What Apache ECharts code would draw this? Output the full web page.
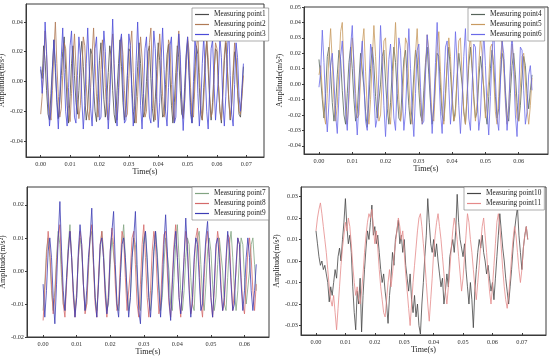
<!DOCTYPE html>
<html><head><meta charset="utf-8">
<script src="https://cdn.jsdelivr.net/npm/echarts@6/dist/echarts.min.js"></script>
<style>html,body{margin:0;padding:0;background:#fff}#c{width:550px;height:357px}</style>
</head><body><div id="c"></div>
<script>
// sampling step of the recorded signals (s)
const dt = 0.0005;

// ---- Panel A: measuring points 1-3 ----
const point1 = [0.008,0.002,0.024,0.014,-0.006,-0.022,-0.026,
-0.008,0.010,0.028,0.006,-0.012,-0.025,-0.014,
0.004,0.020,0.030,0.008,-0.016,-0.028,-0.010,
0.012,0.024,0.004,-0.014,-0.022,-0.006,0.016,
0.027,0.010,-0.010,-0.026,-0.018,0.002,0.022,
0.018,-0.004,-0.020,-0.027,-0.008,0.014,0.026,
0.008,-0.012,-0.024,-0.012,0.006,0.024,0.016,
-0.006,-0.022,-0.028,-0.006,0.012,0.028,0.010,
-0.014,-0.026,-0.016,0.004,0.022,0.020,-0.002,
-0.020,-0.028,-0.010,0.010,0.026,0.012,-0.010,
-0.024,-0.020,0.000,0.020,0.024,0.002,-0.018,
-0.027,-0.012,0.008,0.026,0.014,-0.008,-0.024,
-0.022,-0.002,0.018,0.025,0.004,-0.016,-0.028,
-0.014,0.006,0.024,0.016,-0.006,-0.022,-0.024,
-0.004,0.016,0.027,0.006,-0.014,-0.028,-0.012,
0.010,0.024,0.018,-0.004,-0.022,-0.026,-0.004,
0.014,0.028,0.008,-0.012,-0.026,-0.014,0.006,
0.022,0.020,-0.002,-0.020,-0.028,-0.006,0.014,
0.026,0.010,-0.012,-0.026,-0.016,0.004,0.020,
0.014,-0.006,-0.022,-0.024,-0.008,0.010];
const point2 = [-0.022,-0.010,0.012,0.034,0.018,-0.004,-0.020,
-0.026,-0.006,0.020,0.040,0.012,-0.010,-0.024,
-0.018,0.004,0.026,0.022,0.000,-0.018,-0.027,
-0.008,0.016,0.032,0.010,-0.012,-0.025,-0.016,
0.006,0.030,0.024,-0.002,-0.020,-0.026,-0.004,
0.018,0.036,0.012,-0.010,-0.024,-0.014,0.008,
0.028,0.020,-0.004,-0.022,-0.026,-0.002,0.020,
0.032,0.008,-0.014,-0.026,-0.010,0.012,0.030,
0.018,-0.006,-0.024,-0.022,0.002,0.024,0.034,
0.006,-0.016,-0.028,-0.010,0.014,0.030,0.016,
-0.008,-0.024,-0.020,0.004,0.026,0.036,0.004,
-0.018,-0.026,-0.008,0.016,0.032,0.014,-0.010,
-0.024,-0.018,0.006,0.028,0.024,-0.002,-0.020,
-0.027,-0.006,0.018,0.034,0.010,-0.012,-0.025,
-0.014,0.008,0.030,0.020,-0.004,-0.022,-0.024,
-0.002,0.022,0.032,0.006,-0.016,-0.026,-0.012,
0.012,0.028,0.016,-0.008,-0.024,-0.020,0.004,
0.026,0.022,-0.002,-0.020,-0.026,-0.006,0.018,
0.030,0.010,-0.012,-0.025,-0.014,0.008,0.026,
0.016,-0.006,-0.020,-0.022,-0.010,0.004];
const point3 = [0.010,-0.008,0.006,0.040,0.020,-0.010,-0.030,
-0.018,0.008,0.028,0.012,-0.014,-0.032,-0.010,
0.016,0.036,0.006,-0.020,-0.030,-0.004,0.024,
0.034,0.002,-0.024,-0.028,0.004,0.030,0.018,
-0.012,-0.032,-0.016,0.012,0.036,0.010,-0.018,
-0.030,-0.006,0.022,0.030,0.000,-0.026,-0.024,
0.006,0.034,0.020,-0.010,-0.032,-0.014,0.014,
0.042,0.012,-0.018,-0.030,-0.004,0.026,0.032,
-0.002,-0.028,-0.026,0.004,0.032,0.024,-0.008,
-0.030,-0.016,0.014,0.040,0.014,-0.016,-0.032,
-0.008,0.022,0.030,0.002,-0.024,-0.028,0.002,
0.034,0.022,-0.010,-0.031,-0.014,0.016,0.036,
0.008,-0.020,-0.030,-0.004,0.024,0.030,-0.002,
-0.028,-0.024,0.006,0.032,0.018,-0.012,-0.033,
-0.012,0.018,0.030,0.004,-0.022,-0.028,0.000,
0.028,0.020,-0.008,-0.030,-0.016,0.012,0.030,
0.006,-0.020,-0.032,-0.006,0.022,0.028,-0.002,
-0.026,-0.026,0.004,0.030,0.016,-0.014,-0.030,
-0.010,0.018,0.036,0.004,-0.022,-0.030,-0.002,
0.026,0.016,-0.010,-0.020,-0.004,0.012];

// ---- Panel B: measuring points 4-6 ----
const point4 = [0.016,0.004,-0.010,-0.022,-0.006,0.018,0.024,
0.008,-0.012,-0.024,-0.014,0.006,0.022,0.016,
-0.004,-0.020,-0.026,-0.006,0.014,0.024,0.010,
-0.010,-0.024,-0.018,0.002,0.020,0.020,-0.002,
-0.018,-0.028,-0.010,0.010,0.024,0.012,-0.008,
-0.022,-0.022,0.000,0.018,0.022,0.002,-0.016,
-0.026,-0.012,0.008,0.024,0.014,-0.006,-0.022,
-0.024,-0.002,0.016,0.022,0.004,-0.014,-0.026,
-0.014,0.006,0.022,0.016,-0.004,-0.020,-0.024,
-0.004,0.014,0.024,0.006,-0.012,-0.026,-0.016,
0.004,0.020,0.018,-0.002,-0.020,-0.024,-0.006,
0.012,0.024,0.008,-0.010,-0.024,-0.016,0.004,
0.020,0.020,0.000,-0.018,-0.026,-0.008,0.012,
0.024,0.010,-0.008,-0.022,-0.018,0.002,0.018,
0.018,-0.002,-0.018,-0.026,-0.008,0.010,0.022,
0.012,-0.008,-0.022,-0.016,0.004,0.020,0.016,
-0.004,-0.020,-0.024,-0.006,0.012,0.020,0.006,
-0.012,-0.024,-0.014,0.004,0.018,0.012,-0.006,
-0.016,-0.004,0.006];
const point5 = [0.006,0.012,-0.004,-0.020,-0.026,-0.006,0.020,
0.036,0.014,-0.010,-0.024,-0.014,0.010,0.034,
0.040,0.010,-0.014,-0.026,-0.010,0.014,0.030,
0.016,-0.006,-0.022,-0.020,0.004,0.026,0.036,
0.008,-0.016,-0.026,-0.010,0.016,0.038,0.018,
-0.006,-0.024,-0.020,0.004,0.028,0.030,0.004,
-0.018,-0.026,-0.006,0.018,0.040,0.014,-0.010,
-0.024,-0.016,0.008,0.030,0.026,0.000,-0.020,
-0.026,-0.004,0.020,0.036,0.012,-0.012,-0.026,
-0.014,0.010,0.032,0.022,-0.002,-0.022,-0.024,
0.000,0.024,0.034,0.008,-0.014,-0.026,-0.010,
0.014,0.030,0.018,-0.006,-0.024,-0.020,0.006,
0.028,0.030,0.004,-0.018,-0.026,-0.006,0.020,
0.032,0.012,-0.010,-0.024,-0.012,0.012,0.030,
0.020,-0.004,-0.022,-0.022,0.002,0.024,0.026,
0.004,-0.018,-0.026,-0.008,0.016,0.028,0.010,
-0.012,-0.026,-0.014,0.008,0.026,0.016,-0.006,
-0.022,-0.024,-0.002,0.018,0.020,0.002,-0.016,
-0.026,-0.014,0.004];
const point6 = [-0.002,0.008,0.035,0.014,-0.014,-0.031,-0.012,
0.012,0.020,0.002,-0.020,-0.032,-0.008,0.018,
0.028,0.006,-0.018,-0.030,-0.004,0.024,0.038,
0.010,-0.016,-0.033,-0.012,0.014,0.028,0.002,
-0.024,-0.030,0.000,0.026,0.020,-0.006,-0.028,
-0.022,0.006,0.038,0.014,-0.014,-0.034,-0.010,
0.016,0.026,0.000,-0.022,-0.030,0.002,0.030,
0.022,-0.006,-0.030,-0.018,0.010,0.036,0.010,
-0.018,-0.034,-0.006,0.022,0.026,-0.002,-0.026,
-0.024,0.006,0.032,0.018,-0.010,-0.032,-0.012,
0.014,0.040,0.008,-0.018,-0.032,-0.004,0.024,
0.028,-0.002,-0.026,-0.026,0.006,0.034,0.014,
-0.014,-0.032,-0.010,0.018,0.036,0.004,-0.022,
-0.030,-0.002,0.026,0.024,-0.006,-0.030,-0.020,
0.008,0.034,0.012,-0.016,-0.033,-0.008,0.020,
0.036,0.004,-0.022,-0.030,0.000,0.028,0.020,
-0.008,-0.030,-0.016,0.012,0.034,0.008,-0.020,
-0.034,-0.006,0.024,0.022,-0.004,-0.026,-0.018,
0.006,0.012,-0.004];

// ---- Panel C: measuring points 7-9 ----
const point7 = [-0.012,-0.004,0.006,0.010,0.004,-0.006,-0.012,
-0.006,0.004,0.012,0.008,-0.002,-0.010,-0.012,
-0.002,0.008,0.014,0.004,-0.006,-0.012,-0.008,
0.004,0.010,0.006,-0.004,-0.012,-0.010,0.000,
0.010,0.012,0.002,-0.008,-0.012,-0.004,0.006,
0.012,0.006,-0.004,-0.012,-0.010,0.002,0.010,
0.010,0.000,-0.010,-0.012,-0.002,0.008,0.014,
0.004,-0.006,-0.012,-0.008,0.004,0.010,0.008,
-0.002,-0.010,-0.012,0.000,0.010,0.012,0.002,
-0.008,-0.012,-0.004,0.006,0.012,0.006,-0.004,
-0.012,-0.008,0.002,0.010,0.010,0.000,-0.010,
-0.012,-0.002,0.008,0.014,0.004,-0.006,-0.012,
-0.006,0.004,0.010,0.008,-0.002,-0.010,-0.012,
0.000,0.010,0.012,0.002,-0.008,-0.012,-0.004,
0.006,0.010,0.006,-0.004,-0.012,-0.008,0.002,
0.010,0.010,0.000,-0.010,-0.012,-0.002,0.008,
0.012,0.004,-0.006,-0.012,-0.006,0.004,0.010,
0.008,-0.002,-0.010,-0.010,0.000,0.008,0.010,
0.002,-0.006];
const point8 = [-0.015,-0.006,0.004,0.012,0.006,-0.004,-0.013,
-0.008,0.002,0.010,0.014,0.002,-0.010,-0.014,
-0.004,0.006,0.012,0.004,-0.008,-0.014,-0.006,
0.004,0.012,0.008,-0.004,-0.013,-0.010,0.002,
0.010,0.014,0.002,-0.010,-0.014,-0.002,0.008,
0.012,0.004,-0.008,-0.014,-0.006,0.006,0.013,
0.008,-0.004,-0.012,-0.010,0.002,0.012,0.010,
-0.002,-0.012,-0.012,0.000,0.010,0.012,0.002,
-0.010,-0.014,-0.004,0.008,0.014,0.004,-0.008,
-0.014,-0.006,0.006,0.012,0.008,-0.004,-0.013,
-0.010,0.002,0.011,0.012,0.000,-0.010,-0.014,
-0.002,0.008,0.014,0.004,-0.008,-0.014,-0.006,
0.004,0.012,0.008,-0.004,-0.013,-0.010,0.002,
0.010,0.013,0.002,-0.010,-0.014,-0.002,0.008,
0.012,0.004,-0.008,-0.014,-0.006,0.006,0.012,
0.008,-0.004,-0.012,-0.010,0.002,0.011,0.010,
-0.002,-0.012,-0.012,0.000,0.010,0.008,-0.002,
-0.010,-0.013,-0.004,0.006,0.010,0.004,-0.006,
-0.012,-0.004];
const point9 = [-0.004,-0.014,-0.006,0.006,0.010,0.004,-0.008,
-0.016,-0.004,0.010,0.021,0.006,-0.006,-0.012,
-0.002,0.006,0.012,0.004,-0.006,-0.014,-0.008,
0.006,0.014,0.008,-0.004,-0.012,-0.006,0.004,
0.010,0.019,0.004,-0.008,-0.014,-0.004,0.008,
0.010,0.004,-0.006,-0.013,-0.008,0.006,0.012,
0.018,0.002,-0.010,-0.014,-0.002,0.008,0.010,
0.004,-0.006,-0.014,-0.008,0.004,0.010,0.018,
0.002,-0.012,-0.016,-0.002,0.008,0.012,0.004,
-0.008,-0.014,-0.006,0.006,0.012,0.004,-0.006,
-0.014,-0.004,0.008,0.017,0.006,-0.008,-0.015,
-0.004,0.006,0.012,0.004,-0.008,-0.013,-0.006,
0.004,0.016,0.006,-0.006,-0.014,-0.008,0.004,
0.010,0.008,-0.002,-0.012,-0.010,0.002,0.010,
0.015,0.004,-0.008,-0.014,-0.004,0.008,0.010,
0.004,-0.006,-0.012,-0.008,0.004,0.012,0.006,
-0.004,-0.012,-0.010,0.002,0.010,0.008,-0.004,
-0.012,-0.006,0.004,0.010,0.004,-0.006,-0.012,
-0.006,0.002];

// ---- Panel D: measuring points 10-11 ----
const point10 = [0.014,0.008,0.002,-0.002,0.000,-0.004,-0.002,-0.006,
-0.010,-0.019,-0.012,-0.016,-0.010,-0.004,-0.008,0.002,
0.006,0.000,0.010,0.018,0.029,0.016,0.008,0.012,
0.004,-0.012,-0.024,-0.032,-0.014,-0.020,-0.008,-0.033,
-0.016,-0.004,0.006,0.014,0.010,0.018,0.026,0.012,
0.016,0.008,0.012,0.004,-0.004,-0.010,-0.006,-0.014,
-0.020,-0.029,-0.016,-0.008,0.004,-0.002,0.010,0.014,
0.019,0.008,0.012,0.004,0.010,-0.002,-0.008,-0.014,
-0.006,-0.018,-0.024,-0.016,-0.026,-0.020,-0.030,-0.034,
-0.020,-0.010,0.002,0.012,0.029,0.018,0.008,0.004,
0.010,0.002,0.008,0.000,-0.006,-0.012,-0.008,-0.020,
-0.014,-0.006,-0.012,0.002,0.006,0.010,0.004,0.014,
0.031,0.018,0.010,0.006,0.002,0.008,-0.004,-0.012,
-0.020,-0.010,-0.018,-0.031,-0.014,-0.004,0.004,0.010,
0.006,0.012,0.004,0.000,-0.006,-0.002,-0.008,-0.014,
-0.010,-0.018,-0.008,0.002,0.012,0.022,0.014,0.006,
0.000,-0.008,-0.014,-0.020,-0.012,-0.004,0.006,0.014,
0.020,0.025,0.012,0.004,-0.004,0.006,0.012,0.016,0.010];
const point11 = [0.014,0.020,0.024,0.027,0.022,0.016,0.010,0.004,
-0.004,-0.012,-0.018,-0.021,-0.016,-0.024,-0.032,-0.022,
-0.012,-0.002,0.006,0.012,0.018,0.014,0.020,0.016,
0.008,-0.002,-0.010,-0.016,-0.012,-0.018,-0.020,-0.014,
-0.006,0.004,0.012,0.018,0.022,0.020,0.024,0.016,
0.008,0.014,0.006,-0.004,-0.012,-0.018,-0.024,-0.026,
-0.018,-0.010,-0.004,-0.012,-0.006,0.002,0.008,0.014,
0.020,0.016,0.010,0.014,0.004,-0.006,-0.014,-0.022,
-0.030,-0.020,-0.010,-0.002,0.006,0.014,0.020,0.022,
0.016,0.008,0.000,-0.010,-0.020,-0.028,-0.018,-0.008,
0.004,0.012,0.018,0.022,0.016,0.010,0.002,-0.006,
-0.014,-0.020,-0.012,-0.004,0.006,0.014,0.020,0.016,
0.010,0.002,-0.006,-0.014,-0.008,0.002,0.012,0.022,
0.018,0.010,0.004,-0.004,-0.012,-0.018,-0.010,-0.002,
0.008,0.016,0.020,0.012,0.004,-0.006,-0.014,-0.020,
-0.012,-0.002,0.008,0.018,0.022,0.016,0.006,-0.004,
-0.012,-0.018,-0.022,-0.016,-0.008,0.002,0.010,0.016,
0.012,0.004,-0.004,-0.010,-0.004,0.006,0.012,0.016,0.010];

// tick labels
const xTicksA = [0.00,0.01,0.02,0.03,0.04,0.05,0.06,0.07];
const xTicksB = [0.00,0.01,0.02,0.03,0.04,0.05,0.06];
const yTicksA = [-0.04,-0.02,0.00,0.02,0.04];
const yTicksB = [-0.04,-0.03,-0.02,-0.01,0.00,0.01,0.02,0.03,0.04,0.05];
const yTicksC = [-0.02,-0.01,0.00,0.01,0.02];
const yTicksD = [-0.03,-0.02,-0.01,0.00,0.01,0.02,0.03];

const names = ['Measuring point1','Measuring point2','Measuring point3','Measuring point4','Measuring point5','Measuring point6','Measuring point7','Measuring point8','Measuring point9','Measuring point10','Measuring point11'];
const values = [point1,point2,point3,point4,point5,point6,point7,point8,point9,point10,point11];
const panelOf = [0,0,0,1,1,1,2,2,2,3,3];
const colors = ['#4a4a4a','#b07a55','#4b4bd8','#56645a','#c89a60','#6a6ae8','#82a482','#d46a6a','#3c3cb4','#454545','#e58a8a'];

const FONT = '"Liberation Serif","Times New Roman",serif';
const grids = [
  {left:26, top:4, width:238, height:153},
  {left:304, top:7, width:244, height:147},
  {left:27, top:187, width:242, height:150},
  {left:301, top:187, width:245, height:148}
];
const xr = [[-0.005,0.076],[-0.0045,0.0688],[-0.0048,0.0673],[-0.0051,0.0782]];
const yr = [[-0.0508,0.0521],[-0.0453,0.05],[-0.02,0.0254],[-0.0344,0.0344]];
const xt = [xTicksA,xTicksB,xTicksB,xTicksA];
const yt = [yTicksA,yTicksB,yTicksC,yTicksD];
const legendPos = [{left:192,top:8},{left:468,top:8},{left:192,top:187},{left:464,top:187}];

const option = {
  animation:false,
  backgroundColor:'#fff',
  grid: grids.map(g=>Object.assign({show:true,borderColor:'#3a3a3a',borderWidth:1,outerBoundsMode:'none',containLabel:false},g)),
  xAxis: grids.map((g,i)=>({
    type:'value', gridIndex:i, min:xr[i][0], max:xr[i][1],
    name:'Time(s)', nameLocation:'middle', nameGap:10,
    nameTextStyle:{fontFamily:FONT,fontSize:8,color:'#222'},
    axisLine:{show:true,onZero:false,lineStyle:{color:'#3a3a3a',width:1}},
    axisTick:{show:true,inside:true,length:2,customValues:xt[i],lineStyle:{color:'#3a3a3a'}},
    axisLabel:{customValues:xt[i],formatter:v=>v.toFixed(2),fontFamily:FONT,fontSize:6.3,color:'#333',margin:4},
    splitLine:{show:false}
  })),
  yAxis: grids.map((g,i)=>({
    type:'value', gridIndex:i, min:yr[i][0], max:yr[i][1],
    name:'Amplitude(m/s\u00B2)', nameLocation:'middle', nameGap:17, nameRotate:90,
    nameTextStyle:{fontFamily:FONT,fontSize:8,color:'#222'},
    axisLine:{show:true,onZero:false,lineStyle:{color:'#3a3a3a',width:1}},
    axisTick:{show:true,inside:false,length:2,customValues:yt[i],lineStyle:{color:'#3a3a3a'}},
    axisLabel:{customValues:yt[i],formatter:v=>v.toFixed(2),fontFamily:FONT,fontSize:6.3,color:'#333',margin:3},
    splitLine:{show:false}
  })),
  legend: legendPos.map((p,i)=>({
    left:p.left, top:p.top, orient:'vertical',
    data:names.filter((n,k)=>panelOf[k]===i),
    icon:'rect', itemWidth:14, itemHeight:1.2, itemGap:3,
    padding:[3,3,3,3],
    backgroundColor:'#fff', borderColor:'#777', borderWidth:0.6,
    textStyle:{fontFamily:FONT,fontSize:7.3,color:'#222'}
  })),
  series: values.map((arr,k)=>({
    type:'line', name:names[k], xAxisIndex:panelOf[k], yAxisIndex:panelOf[k],
    data:arr.map((v,j)=>[j*dt,v]),
    symbol:'none', smooth:false,
    lineStyle:{color:colors[k],width:0.8}, itemStyle:{color:colors[k]}
  }))
};
const chart = echarts.init(document.getElementById('c'),null,{renderer:'canvas'});
chart.setOption(option);
</script>
</body></html>
